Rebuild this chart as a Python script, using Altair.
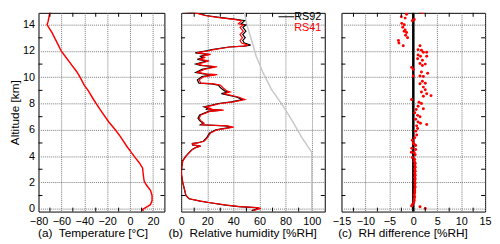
import altair as alt
import pandas as pd

# ---------------- data ----------------
temp_alt = [-0.2, -0.05, 0.12, 0.3, 0.62, 1.0, 1.4, 1.8, 2.1, 2.6, 3.1, 3.5, 3.9, 4.25, 4.75, 5.5,
            6.0, 6.6, 7.5, 8.25, 9.0, 9.4, 9.9, 10.4, 11.0, 11.5, 12.0, 12.5, 13.0, 13.4, 13.75,
            14.0, 14.25, 14.6, 14.9, 15.0]
temp_val = [11.5, 10.9, 14.3, 17.8, 19.2, 19.2, 17.8, 14.3, 12.3, 11.5, 10.9, 8.0, 4.3, 1.4, -2.9, -8.6,
            -12.9, -18.6, -25.8, -31.5, -36.7, -40.1, -43.0, -46.4, -51.6, -55.9, -60.2, -63.0, -65.9,
            -68.2, -70.8, -72.5, -71.6, -70.8, -70.2, -68.8]

rh_alt = [-0.15, 0.02, 0.08, 0.15, 0.27, 0.45, 0.57, 0.75, 1.0, 1.5, 2.0, 2.64, 3.0, 3.64, 4.0, 4.26,
          4.51, 4.65, 4.76, 4.85, 4.96, 5.0, 5.13, 5.38, 5.76, 6.0, 6.2, 6.3, 6.38, 6.5, 6.7, 6.88,
          7.13, 7.4, 7.5, 7.55, 7.63, 7.75, 7.88, 8.0, 8.13, 8.3, 8.5, 8.75, 8.88, 8.96, 9.2, 9.4,
          9.5, 9.55, 9.8, 10.05, 10.2, 10.24, 10.37, 10.6, 10.8, 10.9, 11.0, 11.24, 11.36, 11.5,
          11.6, 11.74, 11.85, 12.0, 12.1, 12.3, 12.37, 12.44, 12.6, 12.8, 13.0, 13.25, 13.5, 13.8,
          13.97, 14.07, 14.3, 14.4, 14.55, 14.7, 14.86, 15.0]
rh_rs41 = [55, 61, 58, 45, 35, 22.6, 15, 6.3, 3.8, 2.5, 1.3, 0.2, 0.3, 1.3, 3.8, 6.3, 8.8, 11.5, 15.1,
           9, 8.8, 12.6, 17.6, 20, 22.6, 27.6, 40.2, 35.2, 15.6, 17.6, 15, 13.8, 15.1, 22, 32.6, 20,
           22.6, 18.8, 25, 30, 40, 48.9, 43.9, 32.5, 37.5, 35, 32, 30, 25, 15.1, 13.8, 17.6, 27.6, 20,
           12.6, 17.6, 27.6, 16.3, 12.6, 21.4, 13.8, 18, 16.3, 22.6, 12, 20, 25, 37.5, 47.6, 51.4,
           46.4, 45.1, 47, 45.1, 47.6, 45.1, 47.6, 43.9, 46.4, 40.1, 27.6, 18, 12.6, 1]
rh_rs92 = [54, 60, 57, 44, 34, 22, 14.5, 6, 3.6, 2.4, 1.2, 0.1, 0.2, 1.1, 3.6, 6, 8.5, 11, 14.6, 8.7,
           8.5, 12.2, 17, 19.4, 21.8, 26.6, 38.8, 34, 14.8, 16.8, 14.2, 12.9, 14.2, 21, 31, 18.8, 21.4,
           17.6, 23.6, 28.5, 38.5, 47.2, 42.2, 30.8, 35.8, 33.2, 30.2, 28.4, 23.4, 13.6, 12.4, 16, 25.8,
           18.4, 11.2, 16, 25.9, 14.8, 11.2, 19.6, 12.4, 16.5, 14.8, 20.8, 10.8, 18.4, 23.5, 36.5, 48.5,
           53.2, 48.4, 47.2, 49.1, 47.2, 49.6, 47.3, 49.6, 46, 48.6, 42, 29.2, 19, 13.2, 1]

ice_alt = [-0.22, 4.3, 5.4, 6.7, 7.9, 9.1, 10.4, 11.6, 12.8, 14.1, 15.0]
ice_rh = [100, 100, 92.5, 85, 77.5, 69, 62.5, 57.5, 54, 50, 48.5]

diff_alt = [15.0, 14.9, 14.8, 14.6, 14.5, 14.4, 14.3, 14.1, 14.0, 13.8, 13.6, 13.5, 13.4, 13.2, 13.0,
            12.8, 12.6, 12.4, 12.4, 12.1, 12.05, 11.9, 11.9, 11.7, 11.6, 11.6, 11.4, 11.3, 11.05, 11.0,
            10.9, 10.75, 10.6, 10.4, 10.3, 10.1, 10.1, 10.05, 9.7, 9.55, 9.5, 9.25, 9.05, 8.87, 8.75,
            8.55, 8.6, 8.3, 8.1, 8.0, 7.8, 7.6, 7.55, 7.3, 7.1, 7.0, 6.8, 6.6, 6.5, 6.4, 6.3, 6.1, 5.9,
            5.6, 5.4, 5.2, 5.0, 4.8, 4.9, 4.6, 4.5, 4.3, 4.25, 4.1, 3.9, 3.75, 3.6, 3.45, 3.3, 3.15,
            3.0, 2.85, 2.7, 2.55, 2.4, 2.25, 2.1, 1.95, 1.8, 1.65, 1.5, 1.35, 1.2, 1.05, 0.9, 0.75,
            0.6, 0.45, 0.3, 0.2, 0.15, 0.02]
diff_val = [1.4, 1.9, -1.4, -2.5, -1.7, 0.2, -0.2, -2.4, -1.9, -2.2, -1.7, -1.9, -1.4, -1.6, -1.2,
            -3.1, -3.0, -2.1, 1.4, 1.0, 1.7, 2.1, 2.8, 1.0, 1.5, 2.8, 0.9, 1.9, 1.4, 2.5,
            1.9, -0.35, 0.0, 1.7, 3.0, 0.0, 1.4, 2.1, 1.9, 2.5, 1.4, 2.1, 2.5, 1.7, 2.8,
            2.1, 3.7, -0.35, 1.2, 1.7, 1.0, 2.1, 0.6, 0.3, 0.9, 1.4, 0.5, 1.0, 1.5, 2.8, 0.7, 0.9, 0.5,
            0.7, 0.3, -0.2, 0.0, 0.5, 0.2, -0.3, 0.5, -0.4, 0.2, 0.4, -0.2, 0.3, 0.2, 0.4, 0.3, 0.4,
            0.3, 0.4, 0.3, 0.4, 0.3, 0.4, 0.3, 0.4, 0.3, 0.4, 0.3, 0.3, 0.3, 0.2, 0.3, 0.2,
            0.2, 0.1, -0.2, -0.35, 1.4, 2.5]

legend_labels = ["RS92", "RS41"]

y_major = [0, 2, 4, 6, 8, 10, 12, 14]
y_minor = [1, 3, 5, 7, 9, 11, 13]
xa_major = [-80, -60, -40, -20, 0, 20]
xa_minor = [-70, -50, -30, -10, 10]
xb_major = [0, 20, 40, 60, 80, 100]
xb_minor = [10, 30, 50, 70, 90]
xc_major = [-15, -10, -5, 0, 5, 10, 15]
xc_minor = [-12.5, -7.5, -2.5, 2.5, 7.5, 12.5]

# ---------------- layout ----------------
WA, WB, WC, H = 128, 146, 146, 202
TICK = 4
RED = "#ff0000"

yscale = alt.Scale(domain=[-0.22, 14.9], nice=False, zero=False)
y_axis_first = alt.Axis(values=y_major, title="Altitude [km]", labelOverlap=False)
y_axis_other = alt.Axis(values=y_major, labels=False, title=None)


def minor_ticks(xfield, xscale, x_axis, xminor, W, y_axis):
    ydf = pd.DataFrame({"alt": y_minor})
    xdf = pd.DataFrame({xfield: xminor})
    ly = alt.Chart(ydf).mark_rule(color="black", strokeWidth=1).encode(
        y=alt.Y("alt:Q", scale=yscale, axis=y_axis), x=alt.value(0), x2=alt.value(TICK))
    ry = alt.Chart(ydf).mark_rule(color="black", strokeWidth=1).encode(
        y=alt.Y("alt:Q", scale=yscale, axis=y_axis), x=alt.value(W - TICK), x2=alt.value(W))
    bx = alt.Chart(xdf).mark_rule(color="black", strokeWidth=1).encode(
        x=alt.X(f"{xfield}:Q", scale=xscale, axis=x_axis), y=alt.value(H - TICK), y2=alt.value(H))
    tx = alt.Chart(xdf).mark_rule(color="black", strokeWidth=1).encode(
        x=alt.X(f"{xfield}:Q", scale=xscale, axis=x_axis), y=alt.value(0), y2=alt.value(TICK))
    return [ly, ry, bx, tx]


# Panel (a)
xa = alt.Scale(domain=[-80, 30], nice=False, zero=False)
xa_axis = alt.Axis(values=xa_major, title="(a)\u00a0 Temperature [°C]", titleX=55,
                   labelOverlap=False, labelFlush=False)
dfT = pd.DataFrame({"alt": temp_alt, "x": temp_val, "i": range(len(temp_alt))})
line_a = alt.Chart(dfT).mark_line(color=RED, strokeWidth=1.5, clip=True).encode(
    x=alt.X("x:Q", scale=xa, axis=xa_axis),
    y=alt.Y("alt:Q", scale=yscale, axis=y_axis_first),
    order=alt.Order("i:Q"))
pa = alt.layer(line_a, *minor_ticks("x", xa, xa_axis, xa_minor, WA, y_axis_first)).properties(width=WA, height=H)

# Panel (b)
xb = alt.Scale(domain=[0, 110], nice=False, zero=False)
xb_axis = alt.Axis(values=xb_major, title="(b)\u00a0 Relative humidity [%RH]", titleX=62,
                   labelOverlap=False, labelFlush=False)
dfI = pd.DataFrame({"alt": ice_alt, "x": ice_rh, "i": range(len(ice_alt))})
df92 = pd.DataFrame({"alt": rh_alt, "x": rh_rs92, "i": range(len(rh_alt))})
df41 = pd.DataFrame({"alt": rh_alt, "x": rh_rs41, "i": range(len(rh_alt))})
ice = alt.Chart(dfI).mark_line(color="#c8c8c8", strokeWidth=1.5, clip=True).encode(
    x=alt.X("x:Q", scale=xb, axis=xb_axis),
    y=alt.Y("alt:Q", scale=yscale, axis=y_axis_other),
    order=alt.Order("i:Q"))
l92 = alt.Chart(df92).mark_line(color="black", strokeWidth=1.2, clip=True).encode(
    x=alt.X("x:Q", scale=xb, axis=xb_axis), y=alt.Y("alt:Q", scale=yscale, axis=y_axis_other),
    order=alt.Order("i:Q"))
l41 = alt.Chart(df41).mark_line(color=RED, strokeWidth=1.2, clip=True).encode(
    x=alt.X("x:Q", scale=xb, axis=xb_axis), y=alt.Y("alt:Q", scale=yscale, axis=y_axis_other),
    order=alt.Order("i:Q"))
leg_line = alt.Chart(pd.DataFrame({"s": [legend_labels[0]]})).mark_rule(
    color="black", strokeWidth=1).encode(x=alt.value(99), x2=alt.value(115), y=alt.value(4))
leg_t1 = alt.Chart(pd.DataFrame({"s": [legend_labels[0]]})).mark_text(
    align="left", baseline="middle", fontSize=11, color="black").encode(
    text="s:N", x=alt.value(115), y=alt.value(4))
leg_t2 = alt.Chart(pd.DataFrame({"s": [legend_labels[1]]})).mark_text(
    align="left", baseline="middle", fontSize=11, color=RED).encode(
    text="s:N", x=alt.value(115), y=alt.value(15.5))
pb = alt.layer(ice, l92, l41, *minor_ticks("x", xb, xb_axis, xb_minor, WB, y_axis_other),
               leg_line, leg_t1, leg_t2).properties(width=WB, height=H)

# Panel (c)
xc = alt.Scale(domain=[-15, 15], nice=False, zero=False)
xc_axis = alt.Axis(values=xc_major, title="(c)\u00a0 RH difference [%RH]", titleX=62,
                   labelOverlap=False, labelFlush=False)
dfD = pd.DataFrame({"alt": diff_alt, "x": diff_val})
zero_line = alt.Chart(pd.DataFrame({"x": [0]})).mark_rule(color="black", strokeWidth=2.5).encode(
    x=alt.X("x:Q", scale=xc, axis=xc_axis))
pts = alt.Chart(dfD).mark_circle(color=RED, size=9, opacity=1, clip=True).encode(
    x=alt.X("x:Q", scale=xc, axis=xc_axis),
    y=alt.Y("alt:Q", scale=yscale, axis=y_axis_other))
pc = alt.layer(zero_line, pts, *minor_ticks("x", xc, xc_axis, xc_minor, WC, y_axis_other)).properties(width=WC, height=H)

chart = alt.hconcat(pa, pb, pc, spacing=17, bounds="flush").properties(
    padding=0
).configure(font="Liberation Sans").configure_view(
    stroke="black", strokeWidth=1
).configure_axis(
    grid=True, gridColor="#777777", gridDash=[1, 1], gridWidth=1,
    domain=False, ticks=False, labelOverlap=False, labelFlush=False,
    labelFontSize=11, labelColor="black", labelPadding=4,
    titleFontSize=12, titleFontWeight="normal", titleColor="black", titlePadding=1,
)

chart.save("out.html", embed_options={"renderer": "svg", "actions": False})
